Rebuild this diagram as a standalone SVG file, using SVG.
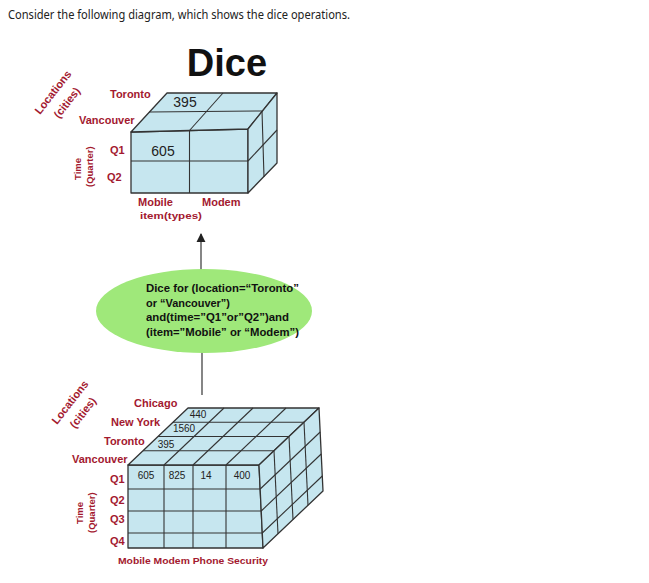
<svg xmlns="http://www.w3.org/2000/svg" width="649" height="583" viewBox="0 0 649 583">
<defs>
<style>
.hdr{font-family:"Noto Sans","DejaVu Sans",sans-serif;font-size:13px;fill:#222}
.title{font-family:"Liberation Sans",Arial,sans-serif;font-weight:bold;font-size:38px;fill:#111}
.lbl{font-family:"Liberation Sans",Arial,sans-serif;font-weight:bold;font-size:11px;fill:#a3192f}
.sm{font-family:"Liberation Sans",Arial,sans-serif;font-weight:bold;font-size:9.5px;fill:#a3192f}
.num{font-family:"Liberation Sans",Arial,sans-serif;font-size:14px;fill:#222}
.num2{font-family:"Liberation Sans",Arial,sans-serif;font-size:10px;fill:#222}
.face{fill:#c6e6ef;stroke:#333;stroke-width:1.3;stroke-linejoin:round}
.grid{fill:none;stroke:#333;stroke-width:1.1}
.etx{font-family:"Liberation Sans",Arial,sans-serif;font-weight:bold;font-size:11px;fill:#111}
.conn{stroke:#444;stroke-width:1.3;fill:none}
</style>
<marker id="ah" viewBox="0 0 10 10" refX="9" refY="5" markerWidth="7" markerHeight="7" orient="auto">
<path d="M0,0 L10,5 L0,10 z" fill="#222"/>
</marker>
</defs>
<rect width="649" height="583" fill="#fff"/>
<text class="hdr" x="8" y="19" textLength="342" lengthAdjust="spacingAndGlyphs">Consider the following diagram, which shows the dice operations.</text>
<text class="title" x="227" y="76" text-anchor="middle">Dice</text>

<g id="connectors">
<line class="conn" x1="201" y1="270" x2="201" y2="234" marker-end="url(#ah)"/>
<line class="conn" x1="202" y1="352" x2="202" y2="395"/>
</g>

<g id="top-cube">
<polygon class="face" points="131,132 248,129 248,193 131,193"/>
<polygon class="face" points="131,132 167,93 277,93 248,129"/>
<polygon class="face" points="248,129 277,93 277,163 248,193"/>
<line class="grid" x1="131" y1="161" x2="248" y2="161"/>
<line class="grid" x1="189.5" y1="130.5" x2="189.5" y2="193"/>
<line class="grid" x1="149" y1="112" x2="262" y2="111"/>
<line class="grid" x1="189.5" y1="130.5" x2="223" y2="93"/>
<line class="grid" x1="262" y1="111" x2="264" y2="177"/>
<line class="grid" x1="248" y1="161" x2="277" y2="130"/>
<text class="num" x="185" y="107" text-anchor="middle">395</text>
<text class="num" x="163" y="156" text-anchor="middle">605</text>
</g>

<g id="top-labels">
<text class="lbl" x="110" y="98">Toronto</text>
<text class="lbl" x="79" y="124">Vancouver</text>
<text class="lbl" x="110" y="154">Q1</text>
<text class="lbl" x="107" y="181">Q2</text>
<text class="lbl" x="138" y="206">Mobile</text>
<text class="lbl" x="202" y="206">Modem</text>
<text class="sm" x="140" y="219" textLength="62" lengthAdjust="spacingAndGlyphs">item(types)</text>
<text class="lbl" transform="translate(40,115) rotate(-52)">Locations</text>
<text class="lbl" transform="translate(59,119) rotate(-52)">(cities)</text>
<text class="sm" transform="translate(81,180) rotate(-90)">Time</text>
<text class="sm" transform="translate(93,187) rotate(-90)">(Quarter)</text>
</g>

<g id="dice-op">
<ellipse cx="204" cy="311" rx="108" ry="42" fill="#9fe87a"/>
<text class="etx" x="146" y="292" textLength="153" lengthAdjust="spacingAndGlyphs">Dice for (location=“Toronto”</text>
<text class="etx" x="146" y="306.5" textLength="84" lengthAdjust="spacingAndGlyphs">or “Vancouver”)</text>
<text class="etx" x="146" y="321" textLength="143" lengthAdjust="spacingAndGlyphs">and(time=”Q1”or”Q2”)and</text>
<text class="etx" x="146" y="335.5" textLength="153" lengthAdjust="spacingAndGlyphs">(item=”Mobile” or “Modem”)</text>
</g>

<g id="bottom-cube">
<polygon class="face" points="128,465 259,465 263,548 128,548"/>
<polygon class="face" points="128,465 188,408 319,408 259,465"/>
<polygon class="face" points="259,465 319,408 323,491 263,548"/>
<line class="grid" x1="128" y1="489" x2="260.2" y2="489"/>
<line class="grid" x1="128" y1="511" x2="261.2" y2="511"/>
<line class="grid" x1="128" y1="533" x2="262.3" y2="533"/>
<line class="grid" x1="164" y1="465" x2="164" y2="548"/>
<line class="grid" x1="193" y1="465" x2="193" y2="548"/>
<line class="grid" x1="226" y1="465" x2="226" y2="548"/>
<line class="grid" x1="143" y1="450.8" x2="274" y2="450.8"/>
<line class="grid" x1="158" y1="436.5" x2="289" y2="436.5"/>
<line class="grid" x1="173" y1="422.3" x2="304" y2="422.3"/>
<line class="grid" x1="164" y1="465" x2="224" y2="408"/>
<line class="grid" x1="193" y1="465" x2="253" y2="408"/>
<line class="grid" x1="226" y1="465" x2="286" y2="408"/>
<line class="grid" x1="274" y1="450.8" x2="278" y2="533.8"/>
<line class="grid" x1="289" y1="436.5" x2="293" y2="519.5"/>
<line class="grid" x1="304" y1="422.3" x2="308" y2="505.3"/>
<line class="grid" x1="260.2" y1="489" x2="320.2" y2="432"/>
<line class="grid" x1="261.2" y1="511" x2="321.2" y2="454"/>
<line class="grid" x1="262.3" y1="533" x2="322.3" y2="476"/>
<text class="num2" x="198" y="418" text-anchor="middle">440</text>
<text class="num2" x="184" y="432" text-anchor="middle">1560</text>
<text class="num2" x="166" y="448" text-anchor="middle">395</text>
<text class="num2" x="146" y="479" text-anchor="middle">605</text>
<text class="num2" x="177" y="479" text-anchor="middle">825</text>
<text class="num2" x="206" y="479" text-anchor="middle">14</text>
<text class="num2" x="242" y="479" text-anchor="middle">400</text>
</g>

<g id="bottom-labels">
<text class="lbl" x="134" y="407">Chicago</text>
<text class="lbl" x="111" y="426">New York</text>
<text class="lbl" x="104" y="445">Toronto</text>
<text class="lbl" x="72" y="463">Vancouver</text>
<text class="lbl" x="110" y="483">Q1</text>
<text class="lbl" x="110" y="504">Q2</text>
<text class="lbl" x="110" y="523">Q3</text>
<text class="lbl" x="110" y="545">Q4</text>
<text class="sm" x="118" y="564" textLength="150" lengthAdjust="spacingAndGlyphs">Mobile Modem Phone Security</text>
<text class="lbl" transform="translate(57,425) rotate(-52)">Locations</text>
<text class="lbl" transform="translate(75,429) rotate(-52)">(cities)</text>
<text class="sm" transform="translate(83,524) rotate(-90)">Time</text>
<text class="sm" transform="translate(95,533) rotate(-90)">(Quarter)</text>
</g>
</svg>
